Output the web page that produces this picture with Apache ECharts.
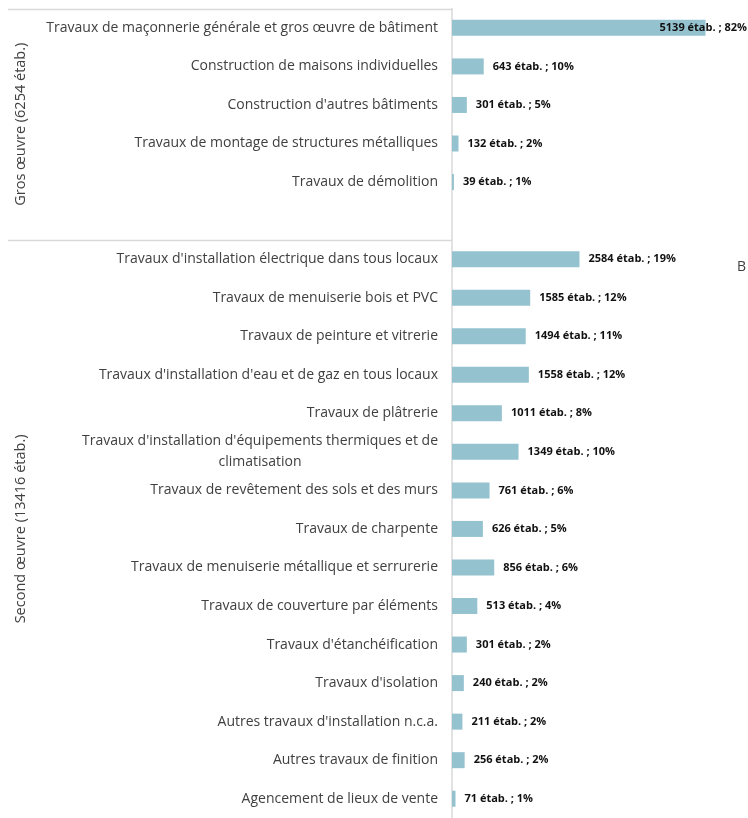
<!DOCTYPE html>
<html>
<head>
<meta charset="utf-8">
<script src="https://cdn.jsdelivr.net/npm/echarts@6/dist/echarts.min.js"></script>
<style>
  html, body { margin: 0; padding: 0; background: #fff; }
  #chart { width: 748px; height: 818px; }
</style>
</head>
<body>
<div id="chart"></div>
<script>
// activités (ordre d'affichage, '' = case vide entre les deux groupes)
const categories = [
  'Travaux de maçonnerie générale et gros œuvre de bâtiment',
  'Construction de maisons individuelles',
  "Construction d'autres bâtiments",
  'Travaux de montage de structures métalliques',
  'Travaux de démolition',
  '',
  "Travaux d'installation électrique dans tous locaux",
  'Travaux de menuiserie bois et PVC',
  'Travaux de peinture et vitrerie',
  "Travaux d'installation d'eau et de gaz en tous locaux",
  'Travaux de plâtrerie',
  "Travaux d'installation d'équipements thermiques et de\nclimatisation",
  'Travaux de revêtement des sols et des murs',
  'Travaux de charpente',
  'Travaux de menuiserie métallique et serrurerie',
  'Travaux de couverture par éléments',
  "Travaux d'étanchéification",
  "Travaux d'isolation",
  "Autres travaux d'installation n.c.a.",
  'Autres travaux de finition',
  'Agencement de lieux de vente'
];
const counts = [5139, 643, 301, 132, 39, null, 2584, 1585, 1494, 1558, 1011, 1349, 761, 626, 856, 513, 301, 240, 211, 256, 71];
const shares = [82, 10, 5, 2, 1, null, 19, 12, 11, 12, 8, 10, 6, 5, 6, 4, 2, 2, 2, 2, 1];

// groupes : libellé + nombre de cases occupées
const groupNames = ['Gros œuvre (6254 étab.)', 'Second œuvre (13416 étab.)'];
const groupSizes = [6, 15];

const barColor = '#95c2cf';
const lineColor = '#d9d9d9';

const chart = echarts.init(document.getElementById('chart'));

const seriesData = counts.map((v, i) => {
  if (v == null) return null;
  const item = { value: v };
  // la plus grande barre : étiquette à cheval sur l'extrémité
  if (i === 0) item.label = { position: 'right', offset: [-55, 0] };
  return item;
});

const options = {
  animation: false,
  grid: { left: 452, top: 8.6, width: 298.6, height: 813.75 },
  xAxis: { type: 'value', min: 0, max: 6000, show: false },
  yAxis: {
    type: 'category',
    inverse: true,
    data: categories,
    axisTick: { show: false },
    axisLine: { lineStyle: { color: lineColor, width: 1.5 } },
    axisLabel: {
      margin: 14,
      fontFamily: 'Open Sans',
      fontSize: 14,
      color: '#404040',
      lineHeight: 21,
      formatter: (v) => v.split('\n').map(s => `{c|${s}}`).join('\n'),
      rich: {
        c: { align: 'center', fontFamily: 'Open Sans', fontSize: 14, color: '#404040', lineHeight: 21 }
      }
    }
  },
  series: [{
    type: 'bar',
    data: seriesData,
    barWidth: 16,
    itemStyle: { color: barColor },
    label: {
      show: true,
      position: 'right',
      distance: 9,
      fontFamily: 'Open Sans',
      fontWeight: 'bold',
      fontSize: 11,
      color: '#111',
      formatter: (p) => `${p.value} étab. ; ${shares[p.dataIndex]}%`
    }
  }]
};
chart.setOption(options);

// cadres et libellés de groupes, placés par l'axe
const y0 = chart.convertToPixel({ yAxisIndex: 0 }, 0);
const y1 = chart.convertToPixel({ yAxisIndex: 0 }, 1);
const half = (y1 - y0) / 2;
const axisX = chart.convertToPixel({ xAxisIndex: 0 }, 0);
const graphics = [];
let start = 0;
groupNames.forEach((name, g) => {
  const end = start + groupSizes[g] - 1;
  const top = chart.convertToPixel({ yAxisIndex: 0 }, start) - half;
  const bottom = chart.convertToPixel({ yAxisIndex: 0 }, end) + half;
  graphics.push({
    type: 'line',
    shape: { x1: 8, y1: Math.round(top) + 0.5, x2: axisX, y2: Math.round(top) + 0.5 },
    style: { stroke: lineColor, lineWidth: 1.5 }
  });
  graphics.push({
    type: 'text',
    x: 21,
    y: (top + bottom) / 2,
    rotation: Math.PI / 2,
    style: {
      text: name,
      fontFamily: 'Open Sans',
      fontSize: 14.5,
      fill: '#404040',
      align: 'center',
      verticalAlign: 'middle'
    }
  });
  start = end + 1;
});
graphics.push({
  type: 'text',
  left: 737,
  top: 260,
  style: { text: 'B', fontFamily: 'Open Sans', fontSize: 14, fill: '#404040' }
});
chart.setOption({ graphic: graphics });

window.addEventListener('resize', () => chart.resize());
</script>
</body>
</html>
